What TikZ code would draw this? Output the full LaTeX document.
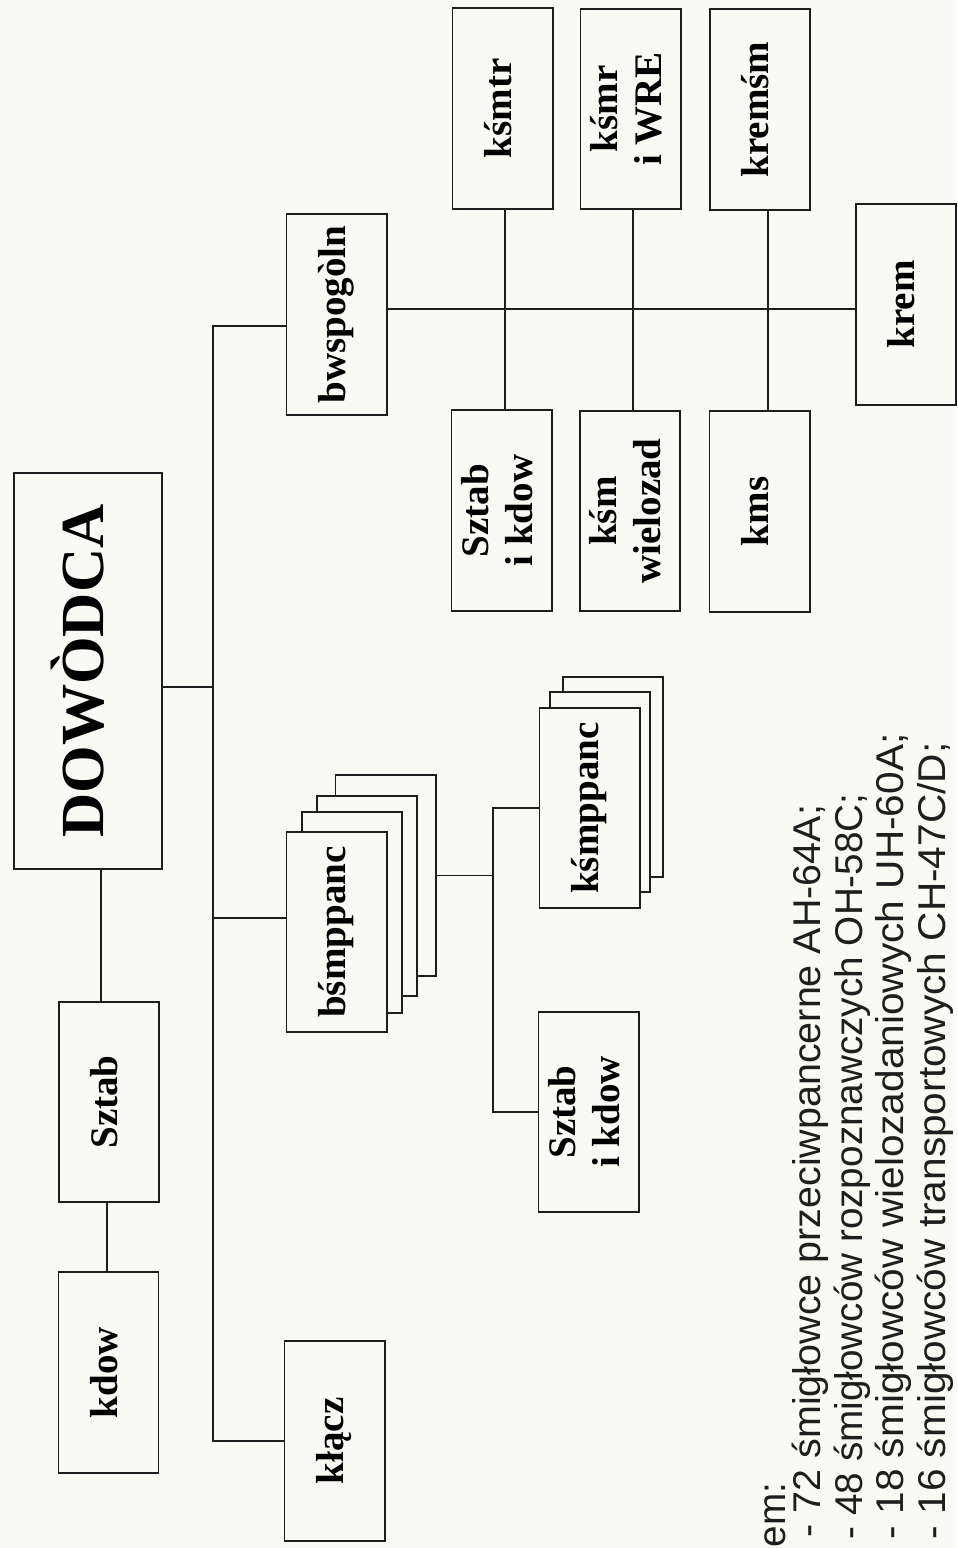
\documentclass[tikz,border=0pt]{standalone}
\usepackage{fontspec}
\setmainfont{Liberation Serif}
\newfontfamily\notefont{Liberation Sans}
\usetikzlibrary{calc}
\definecolor{paper}{RGB}{250,250,244}
\definecolor{ink}{RGB}{30,30,30}
% vertical (rotated) label, one or more centred lines
\newcommand\vlab[1]{\rotatebox{90}{\begin{tabular}{@{}c@{}}#1\end{tabular}}}
\begin{document}
\begin{tikzpicture}[x=0.01cm,y=-0.01cm,
  box/.style={draw=ink, line width=0.55pt, fill=paper, inner sep=0pt,
    minimum width=1cm, minimum height=2cm,
    font=\bfseries\fontsize{11.1}{12.4}\selectfont},
  link/.style={draw=ink, line width=0.5pt},
  note/.style={inner sep=0pt, rotate=90, anchor=base west, text=ink,
    font=\notefont\fontsize{11}{13}\selectfont}]

\fill[paper] (0,0) rectangle (957,1548);
\useasboundingbox (0,0) rectangle (957,1548);

% command post and staff
\node[box, minimum width=1.48cm, minimum height=3.96cm,
  font=\bfseries\fontsize{17.4}{20}\selectfont] (dow) at (88,671) {\vlab{DOWÒDCA}};
\node[box] (sztabL) at (109,1102) {\vlab{Sztab}};
\node[box] (kdowL) at (108.5,1372.5) {\vlab{kdow}};

% subordinate units
\node[box] (bws) at (336.5,314.5) {\vlab{bwspogòln}};
\node[box] (bsm3) at (385.5,875.5) {};
\node[box] (bsm2) at (367,896) {};
\node[box] (bsm1) at (352,912.5) {};
\node[box] (bsm) at (336.5,932) {\vlab{bśmppanc}};
\node[box] (klacz) at (334.5,1441) {\vlab{kłącz}};

% battalion elements
\node[box] (ksp2) at (613,777) {};
\node[box] (ksp1) at (600,792) {};
\node[box] (ksp) at (589.5,808) {\vlab{kśmppanc}};
\node[box] (sztabB) at (588.5,1112) {\vlab{Sztab\\i kdow}};

% general support battalion elements
\node[box] (ksmtr) at (502.5,108.5) {\vlab{kśmtr}};
\node[box] (ksmr) at (630.5,109) {\vlab{kśmr\\i WRE}};
\node[box] (kremsm) at (760,109.5) {\vlab{kremśm}};
\node[box] (krem) at (906,304.5) {\vlab{krem}};
\node[box] (sztabR) at (501.5,510.5) {\vlab{Sztab\\i kdow}};
\node[box] (ksmw) at (630,511) {\vlab{kśm\\wielozad}};
\node[box] (kms) at (759.5,511.5) {\vlab{kms}};

% helper positions for the connector lines
\coordinate (tr) at (213,0);
\coordinate (sub) at (493,0);
\coordinate (bus) at (0,309);
\coordinate (c1) at (101,0);
\coordinate (c2) at (107,0);
\coordinate (v1) at (505,0);
\coordinate (v2) at (633,0);
\coordinate (v3) at (768,0);
\coordinate (dowOut) at ([yshift=-0.16cm]dow.east);
\coordinate (bsmIn) at ([yshift=0.14cm]bsm.west);
\coordinate (bwsIn) at ([yshift=-0.115cm]bws.west);

% connectors
\draw[link] (bwsIn) -| (klacz.west -| tr) -- (klacz.west);
\draw[link] (dowOut) -- (dowOut -| tr);
\draw[link] (bsmIn) -- (bsmIn -| tr);
\draw[link] (dow.south -| c1) -- (sztabL.north -| c1);
\draw[link] (sztabL.south -| c2) -- (kdowL.north -| c2);
\draw[link] (bsm3.east) -- (bsm3.east -| sub);
\draw[link] (ksp.west) -- (ksp.west -| sub) -- (sztabB.west -| sub) -- (sztabB.west);
\draw[link] (bws.east |- bus) -- (krem.west |- bus);
\draw[link] (ksmtr.south -| v1) -- (sztabR.north -| v1);
\draw[link] (ksmr.south -| v2) -- (ksmw.north -| v2);
\draw[link] (kremsm.south -| v3) -- (kms.north -| v3);

% equipment list
\node[note] (t0) at (785,1548) {em:};
\node[note] (t1) at (820,1538) {\scalebox{1.02}[1]{- 72 śmigłowce przeciwpancerne AH-64A;}};
\node[note] (t2) at (862,1540) {\scalebox{1.0}[1]{- 48 śmigłowców rozpoznawczych OH-58C;}};
\node[note] (t3) at (903,1540) {\scalebox{1.05}[1]{- 18 śmigłowców wielozadaniowych UH-60A;}};
\node[note] (t4) at (945,1540) {\scalebox{1.05}[1]{- 16 śmigłowców transportowych CH-47C/D;}};
\end{tikzpicture}
\end{document}
